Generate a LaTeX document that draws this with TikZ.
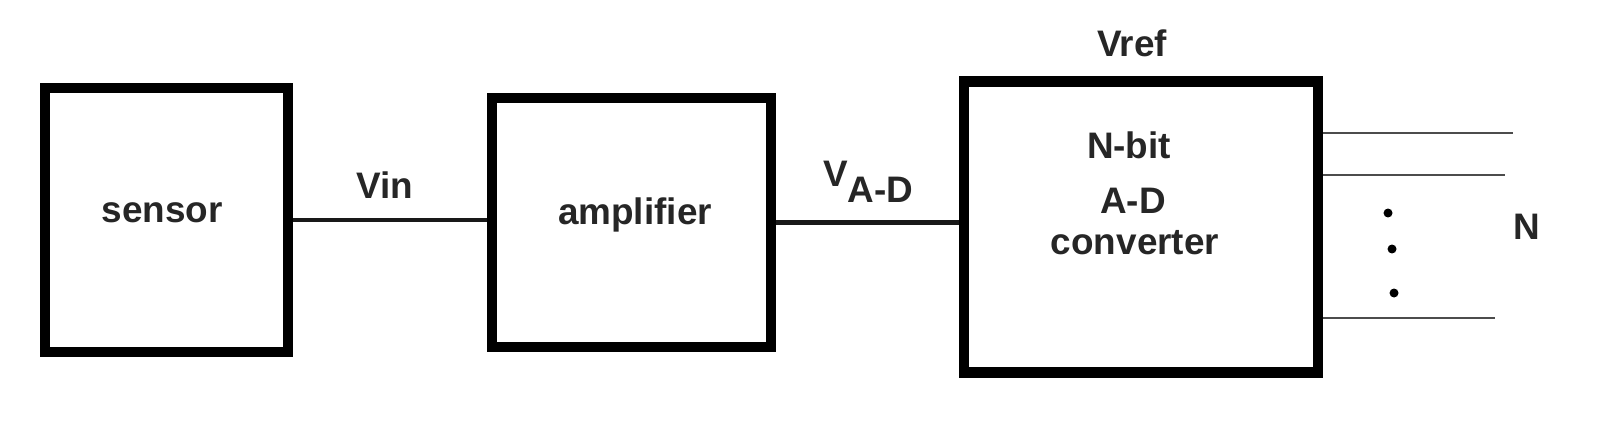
\documentclass[tikz,border=0pt]{standalone}
\usepackage{fontspec}
\setmainfont{Liberation Sans}
\begin{document}
\begin{tikzpicture}[
  x=0.02cm,y=-0.02cm,
  block/.style={rectangle,draw=black,line width=6pt,inner sep=0pt},
  wire/.style={draw=black!90,line width=2.6pt},
  bus/.style={draw=black!70,line width=1.3pt},
  lbl/.style={font=\fontsize{21}{25}\selectfont\bfseries,text=black!85,inner sep=0pt},
]
\useasboundingbox (0,0) rectangle (1604,432);

% The three blocks of the signal chain.
\node[block,minimum width=4.86cm,minimum height=5.28cm] (sensor) at (166.5,220) {};
\node[block,minimum width=5.58cm,minimum height=4.98cm] (amp) at (631.5,222.5) {};
\node[block,minimum width=7.08cm,minimum height=5.83cm] (adc) at (1141,227) {};

\node[lbl] (sensortxt) at (162,213) {sensor};
\node[lbl] (amptxt) at (635,215) {amplifier};
\node[lbl] (nbit) at (1129,145) {N-bit};
\node[lbl] (adtxt) at (1133,201) {A-D};
\node[lbl] (convtxt) at (1135,243) {converter};
\node[lbl] (vref) at (1132,43) {Vref};

% Analog connections.
\draw[wire] (sensor.east) -- (sensor.east -| amp.west);
\draw[wire] (amp.east) -- (amp.east -| adc.west);
\node[lbl] (vin) at (385,185) {Vin};
\node[lbl,anchor=base west] (vad) at (823,187) {V\raisebox{-0.42em}{A-D}};

% Digital output lines.
\coordinate (o1) at (1513,133);
\coordinate (o2) at (1505,175);
\coordinate (o3) at (1495,318);
\foreach \o in {o1,o2,o3}
  \draw[bus] (adc.east |- \o) -- (\o);
\foreach \y/\x [count=\i] in {213/1388,249/1392,293/1394}
  \fill[black] (\x,\y) circle (0.09cm) coordinate (dot\i);
\node[lbl] (nout) at (1527,227) {N};
\end{tikzpicture}
\end{document}
